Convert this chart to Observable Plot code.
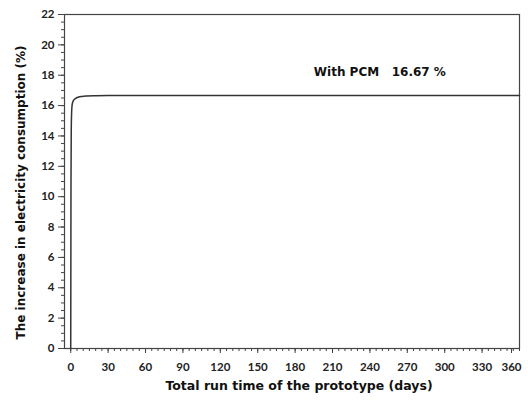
<!DOCTYPE html>
<html>
<head>
<meta charset="utf-8">
<script src="https://cdn.jsdelivr.net/npm/d3@7"></script>
<script src="https://cdn.jsdelivr.net/npm/@observablehq/plot@0.6"></script>
<style>
  body { margin: 0; background: #fff; }
</style>
</head>
<body>
<div id="chart"></div>
<script>
// Data
const days = [0, 0.2, 0.4, 0.7, 1, 1.5, 2.5, 4, 6, 9, 13, 20, 30, 60, 120, 200, 280, 360];
const increase = [0, 10.8, 14.2, 15.5, 15.95, 16.2, 16.38, 16.48, 16.55, 16.6, 16.63, 16.65, 16.66, 16.66, 16.67, 16.67, 16.67, 16.67];
const xTicks = [0, 30, 60, 90, 120, 150, 180, 210, 240, 270, 300, 330, 360];
const yTicks = [0, 2, 4, 6, 8, 10, 12, 14, 16, 18, 20, 22];
const annotation = ["With PCM   16.67 %"];
const xTitle = ["Total run time of the prototype (days)"];
const yTitle = ["The increase in electricity consumption (%)"];

const data = days.map((d, i) => ({day: d, value: increase[i]}));
const xMinor = d3.range(0, 361, 5);
const yMinor = d3.range(0, 22.01, 0.5);
const tickFont = {fontSize: 11.5, fontWeight: "bold", fill: "#222", stroke: "#444"};

const chart = Plot.plot({
  width: 528,
  height: 400,
  marginLeft: 64,
  marginRight: 9,
  marginTop: 14,
  marginBottom: 52,
  style: {fontFamily: "Lato, 'DejaVu Sans', sans-serif", color: "#222"},
  x: {domain: [-5, 360]},
  y: {domain: [0, 22]},
  marks: [
    Plot.frame({stroke: "#444", strokeWidth: 1.2}),
    Plot.axisX({ticks: xMinor, tickSize: 3, text: null, label: null, stroke: "#444"}),
    Plot.axisY({ticks: yMinor, tickSize: 3, text: null, label: null, stroke: "#444"}),
    Plot.axisX({ticks: xTicks.slice(0, -1), tickSize: 5, tickPadding: 9, label: null, ...tickFont}),
    Plot.axisX({ticks: xTicks.slice(-1), tickSize: 5, tickPadding: 9, label: null, dx: -8, ...tickFont}),
    Plot.axisY({ticks: yTicks, tickSize: 6, tickPadding: 4, label: null, ...tickFont}),
    Plot.line(data, {x: "day", y: "value", stroke: "#333", strokeWidth: 1.5, curve: "monotone-x"}),
    Plot.text(annotation, {x: 195, y: 18.2, text: d => d, fontSize: 12, fontWeight: "bold", fill: "#111", textAnchor: "start", fontFamily: "'DejaVu Sans', sans-serif"}),
    Plot.text(xTitle, {frameAnchor: "bottom", dy: 41, dx: 7, text: d => d, fontSize: 12.5, fontWeight: "bold", fill: "#111", fontFamily: "'DejaVu Sans', sans-serif"}),
    Plot.text(yTitle, {frameAnchor: "left", textAnchor: "middle", dx: -43, dy: 11, rotate: -90, text: d => d, fontSize: 12, fontWeight: "bold", fill: "#111", fontFamily: "'DejaVu Sans', sans-serif"})
  ]
});
document.getElementById("chart").appendChild(chart);
</script>
</body>
</html>
